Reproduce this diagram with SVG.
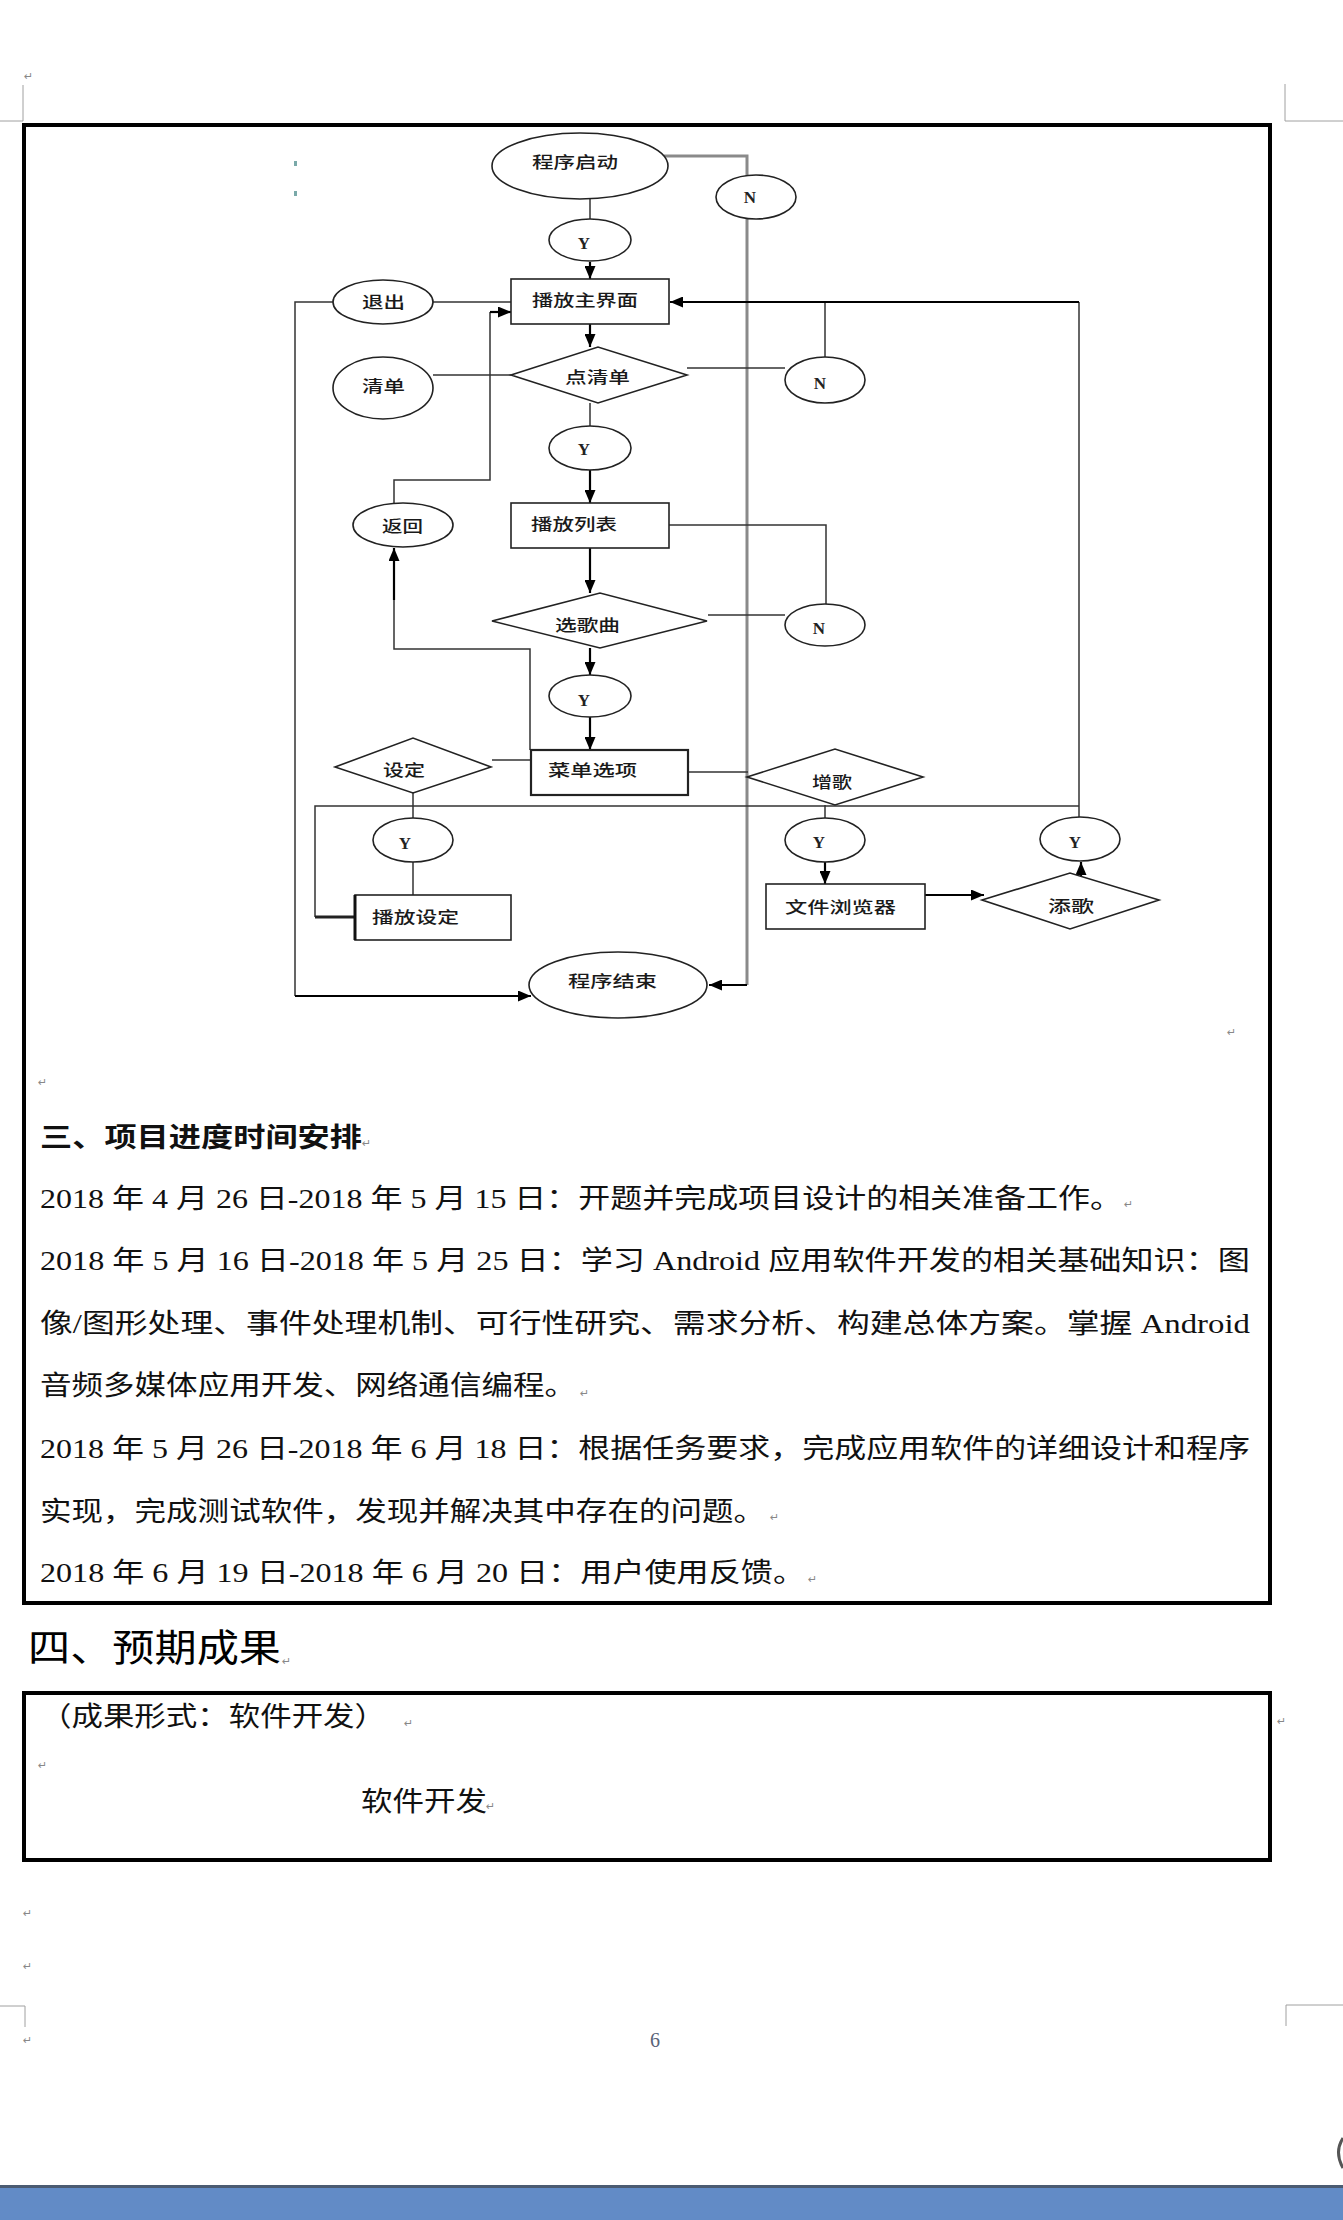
<svg xmlns="http://www.w3.org/2000/svg" width="1343" height="2220" viewBox="0 0 1343 2220">
<style>
.node{fill:#fff;stroke:#222;stroke-width:1.6}
.lbl{font-family:"Noto Sans CJK SC",sans-serif;font-size:16px;font-weight:500;fill:#1a1a1a}
.yn{font-family:"Liberation Serif",serif;font-size:17px;font-weight:bold;fill:#222;text-anchor:middle}
.thin{fill:none;stroke:#333;stroke-width:1.5}
.arr{fill:none;stroke:#000;stroke-width:2.2;marker-end:url(#ah)}
.gray{fill:none;stroke:#8a8a8a;stroke-width:3}
.body{font-family:"Liberation Serif","Noto Sans CJK SC",serif;font-size:27px;fill:#111}
.pm{font-family:"DejaVu Sans",sans-serif;font-size:11px;fill:#888}
.crn{fill:none;stroke:#a0a0a0;stroke-width:1}
.frame{fill:none;stroke:#000;stroke-width:4}
</style>
<defs>
<marker id="ah" viewBox="0 0 13 11" refX="13" refY="5.5" markerWidth="13" markerHeight="11" markerUnits="userSpaceOnUse" orient="auto">
<path d="M0,0 L13,5.5 L0,11 z" fill="#000"/>
</marker>
</defs>
<rect x="0" y="0" width="1343" height="2220" fill="#fff"/>

<!-- page corner marks -->
<g id="corners">
<path class="crn" d="M23,85 V121 H0"/>
<path class="crn" d="M1285,84 V121 H1343"/>
<path class="crn" d="M25,2027 V2006 H0"/>
<path class="crn" d="M1286,2026 V2005 H1343"/>
</g>

<!-- frames -->
<rect class="frame" x="24" y="125" width="1246" height="1478"/>
<rect class="frame" x="24" y="1693" width="1246" height="167"/>

<!-- tiny marks -->
<rect x="294" y="161" width="3" height="5" fill="#7aa9a9"/>
<rect x="294" y="191" width="3" height="5" fill="#7aa9a9"/>

<!-- connectors -->
<g id="connectors">
<path class="thin" d="M590,199 V219"/>
<path class="arr" d="M590,262 V279"/>
<path class="gray" d="M664,156 H747 V985"/>
<path class="arr" d="M747,985 H709"/>
<path class="thin" d="M511,302 H433"/>
<path class="thin" d="M333,302 H295 V996"/>
<path class="arr" d="M295,996 H531"/>
<path class="thin" d="M433,375 H511"/>
<path class="arr" d="M590,324 V347"/>
<path class="thin" d="M687,368 H785"/>
<path class="thin" d="M825,357 V302"/>
<path class="thin" d="M1079,817 V302"/>
<path class="arr" d="M1079,302 H670"/>
<path class="thin" d="M590,403 V427"/>
<path class="arr" d="M590,470 V503"/>
<path class="thin" d="M669,525 H826 V604"/>
<path class="thin" d="M708,615 H785"/>
<path class="arr" d="M590,548 V593"/>
<path class="arr" d="M590,648 V675"/>
<path class="arr" d="M590,716 V750"/>
<path class="thin" d="M530,750 V649 H394 V600"/>
<path class="arr" d="M394,600 V548"/>
<path class="thin" d="M394,503 V480 H490 V312"/>
<path class="arr" d="M490,312 H511"/>
<path class="thin" d="M492,760 H531"/>
<path class="thin" d="M688,772 H748"/>
<path class="thin" d="M413,793 V818"/>
<path class="thin" d="M413,862 V895"/>
<path class="thin" d="M1079,806 H315 V917"/>
<path fill="none" stroke="#222" stroke-width="3" d="M315,917 H355"/>
<path class="thin" d="M825,805 V818"/>
<path class="arr" d="M825,862 V884"/>
<path class="arr" d="M925,895 H984"/>
<path class="arr" d="M1081,877 V862"/>
</g>

<!-- nodes -->
<g id="n-start"><ellipse class="node" cx="580" cy="166" rx="88" ry="33"/><text class="lbl" x="532" y="168" textLength="86" lengthAdjust="spacingAndGlyphs">程序启动</text></g>
<g id="n-N1"><ellipse class="node" cx="756" cy="197" rx="40" ry="22"/><text class="yn" x="750" y="203">N</text></g>
<g id="n-Y1"><ellipse class="node" cx="590" cy="240" rx="41" ry="21"/><text class="yn" x="584" y="249">Y</text></g>
<g id="n-main"><rect class="node" x="511" y="279" width="158" height="45"/><text class="lbl" x="532" y="306" textLength="106" lengthAdjust="spacingAndGlyphs">播放主界面</text></g>
<g id="n-exit"><ellipse class="node" cx="383" cy="302" rx="50" ry="22"/><text class="lbl" x="362" y="308" textLength="43" lengthAdjust="spacingAndGlyphs">退出</text></g>
<g id="n-list"><ellipse class="node" cx="383" cy="388" rx="50" ry="31"/><text class="lbl" x="362" y="392" textLength="43" lengthAdjust="spacingAndGlyphs">清单</text></g>
<g id="n-clicklist"><polygon class="node" points="511,375 598,347 687,375 598,403"/><text class="lbl" x="565" y="383" textLength="65" lengthAdjust="spacingAndGlyphs">点清单</text></g>
<g id="n-N2"><ellipse class="node" cx="825" cy="380" rx="40" ry="23"/><text class="yn" x="820" y="389">N</text></g>
<g id="n-Y2"><ellipse class="node" cx="590" cy="448" rx="41" ry="22"/><text class="yn" x="584" y="455">Y</text></g>
<g id="n-back"><ellipse class="node" cx="403" cy="525" rx="50" ry="22"/><text class="lbl" x="382" y="532" textLength="41" lengthAdjust="spacingAndGlyphs">返回</text></g>
<g id="n-playlist"><rect class="node" x="511" y="503" width="158" height="45"/><text class="lbl" x="531" y="530" textLength="86" lengthAdjust="spacingAndGlyphs">播放列表</text></g>
<g id="n-choose"><polygon class="node" points="492,621 600,593 707,621 600,648"/><text class="lbl" x="555" y="631" textLength="65" lengthAdjust="spacingAndGlyphs">选歌曲</text></g>
<g id="n-N3"><ellipse class="node" cx="825" cy="625" rx="40" ry="21"/><text class="yn" x="819" y="634">N</text></g>
<g id="n-Y3"><ellipse class="node" cx="590" cy="696" rx="41" ry="21"/><text class="yn" x="584" y="706">Y</text></g>
<g id="n-menu"><rect class="node" x="531" y="750" width="157" height="45" style="stroke-width:2.2"/><text class="lbl" x="548" y="776" textLength="89" lengthAdjust="spacingAndGlyphs">菜单选项</text></g>
<g id="n-set"><polygon class="node" points="335,767 413,738 491,767 413,793"/><text class="lbl" x="383" y="776" textLength="42" lengthAdjust="spacingAndGlyphs">设定</text></g>
<g id="n-add"><polygon class="node" points="747,777 835,749 923,777 835,805"/><text class="lbl" x="812" y="788" textLength="40" lengthAdjust="spacingAndGlyphs">增歌</text></g>
<g id="n-Y5"><ellipse class="node" cx="413" cy="840" rx="40" ry="22"/><text class="yn" x="405" y="849">Y</text></g>
<g id="n-Y6"><ellipse class="node" cx="825" cy="840" rx="40" ry="22"/><text class="yn" x="819" y="848">Y</text></g>
<g id="n-Y4"><ellipse class="node" cx="1080" cy="839" rx="40" ry="22"/><text class="yn" x="1075" y="848">Y</text></g>
<g id="n-playset"><rect class="node" x="355" y="895" width="156" height="45"/><line x1="355" y1="895" x2="355" y2="940" stroke="#111" stroke-width="3"/><text class="lbl" x="372" y="923" textLength="87" lengthAdjust="spacingAndGlyphs">播放设定</text></g>
<g id="n-browser"><rect class="node" x="766" y="884" width="159" height="45"/><text class="lbl" x="785" y="913" textLength="111" lengthAdjust="spacingAndGlyphs">文件浏览器</text></g>
<g id="n-addsong"><polygon class="node" points="982,900 1070,873 1159,900 1070,929"/><text class="lbl" x="1048" y="912" textLength="46" lengthAdjust="spacingAndGlyphs">添歌</text></g>
<g id="n-end"><ellipse class="node" cx="618" cy="985" rx="89" ry="33"/><text class="lbl" x="568" y="987" textLength="89" lengthAdjust="spacingAndGlyphs">程序结束</text></g>

<!-- section 3 text -->
<text class="body" x="40" y="1147" font-weight="bold" textLength="322" lengthAdjust="spacingAndGlyphs">三、项目进度时间安排</text>
<text class="body" x="40" y="1208" textLength="1082" lengthAdjust="spacingAndGlyphs">2018 年 4 月 26 日-2018 年 5 月 15 日：开题并完成项目设计的相关准备工作。</text>
<text class="body" x="40" y="1270" textLength="1210" lengthAdjust="spacingAndGlyphs">2018 年 5 月 16 日-2018 年 5 月 25 日：学习 Android 应用软件开发的相关基础知识：图</text>
<text class="body" x="40" y="1333" textLength="1210" lengthAdjust="spacingAndGlyphs">像/图形处理、事件处理机制、可行性研究、需求分析、构建总体方案。掌握 Android</text>
<text class="body" x="40" y="1395" textLength="536" lengthAdjust="spacingAndGlyphs">音频多媒体应用开发、网络通信编程。</text>
<text class="body" x="40" y="1458" textLength="1210" lengthAdjust="spacingAndGlyphs">2018 年 5 月 26 日-2018 年 6 月 18 日：根据任务要求，完成应用软件的详细设计和程序</text>
<text class="body" x="40" y="1521" textLength="725" lengthAdjust="spacingAndGlyphs">实现，完成测试软件，发现并解决其中存在的问题。</text>
<text class="body" x="40" y="1582" textLength="765" lengthAdjust="spacingAndGlyphs">2018 年 6 月 19 日-2018 年 6 月 20 日：用户使用反馈。</text>

<!-- section 4 -->
<text x="28" y="1661" font-family="'Noto Sans CJK SC',sans-serif" font-size="38" fill="#000" textLength="253" lengthAdjust="spacingAndGlyphs">四、预期成果</text>
<text class="body" x="40" y="1726" textLength="346" lengthAdjust="spacingAndGlyphs">（成果形式：软件开发）</text>
<text class="body" x="361" y="1811" textLength="126" lengthAdjust="spacingAndGlyphs">软件开发</text>

<!-- paragraph marks -->
<g id="marks">
<text class="pm" x="24" y="80">↵</text>
<text class="pm" x="38" y="1086">↵</text>
<text class="pm" x="1227" y="1036">↵</text>
<text class="pm" x="362" y="1147">↵</text>
<text class="pm" x="1124" y="1208">↵</text>
<text class="pm" x="580" y="1397">↵</text>
<text class="pm" x="770" y="1521">↵</text>
<text class="pm" x="808" y="1583">↵</text>
<text class="pm" x="282" y="1665">↵</text>
<text class="pm" x="404" y="1727">↵</text>
<text class="pm" x="38" y="1769">↵</text>
<text class="pm" x="486" y="1810">↵</text>
<text class="pm" x="1277" y="1725">↵</text>
<text class="pm" x="23" y="1917">↵</text>
<text class="pm" x="23" y="1970">↵</text>
<text class="pm" x="23" y="2044">↵</text>
</g>

<!-- page number -->
<text x="650" y="2047" font-family="'Liberation Serif',serif" font-size="20" fill="#5a6478">6</text>

<!-- bottom bar -->
<rect x="0" y="2186" width="1343" height="34" fill="#628bc6"/>
<rect x="0" y="2185" width="1343" height="3" fill="#4b5b72"/>
<path d="M1343,2138 Q1334,2152 1343,2168" fill="none" stroke="#555" stroke-width="3"/>
</svg>
